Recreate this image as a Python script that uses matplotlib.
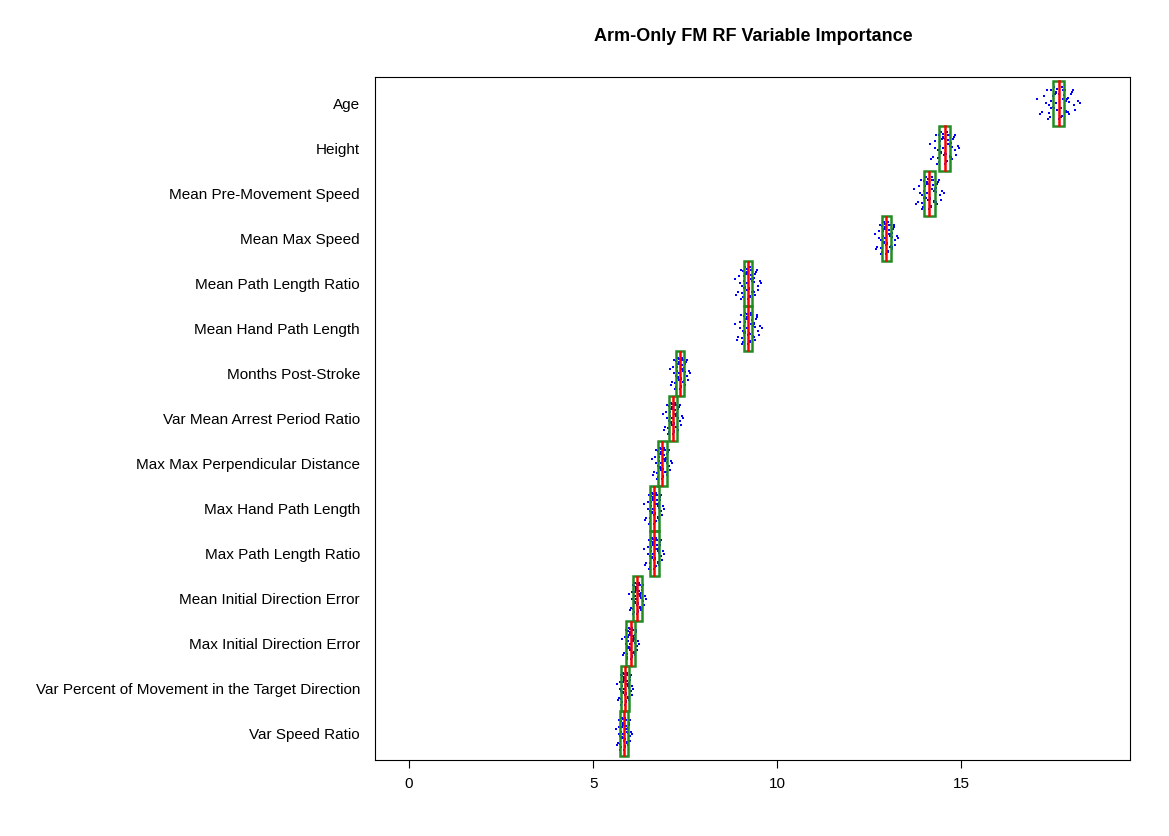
import matplotlib.pyplot as plt
import numpy as np

plt.rcParams['font.family'] = ['Liberation Sans', 'DejaVu Sans']

labels = ["Age", "Height", "Mean Pre-Movement Speed", "Mean Max Speed",
          "Mean Path Length Ratio", "Mean Hand Path Length", "Months Post-Stroke",
          "Var Mean Arrest Period Ratio", "Max Max Perpendicular Distance",
          "Max Hand Path Length", "Max Path Length Ratio", "Mean Initial Direction Error",
          "Max Initial Direction Error", "Var Percent of Movement in the Target Direction",
          "Var Speed Ratio"]
medians = [17.65, 14.55, 14.13, 12.97, 9.21, 9.22, 7.36, 7.17, 6.87, 6.66, 6.66, 6.2, 6.02, 5.87, 5.84]
q1 = [17.5, 14.4, 13.98, 12.85, 9.1, 9.1, 7.24, 7.05, 6.75, 6.55, 6.55, 6.08, 5.9, 5.76, 5.73]
q3 = [17.8, 14.7, 14.28, 13.09, 9.32, 9.32, 7.48, 7.29, 7.0, 6.78, 6.78, 6.32, 6.14, 5.98, 5.95]
spread = [0.65, 0.45, 0.45, 0.35, 0.4, 0.4, 0.3, 0.3, 0.3, 0.3, 0.3, 0.25, 0.25, 0.25, 0.25]

# hand-picked jitter offsets (x in spread units, y in row units)
jx = [-0.9, -0.7, -0.5, -0.3, -0.1, 0.1, 0.3, 0.5, 0.7, 0.9, -0.8, -0.6, -0.4, -0.2, 0.0,
      0.2, 0.4, 0.6, 0.8, -0.35, -0.15, 0.05, 0.25, 0.45, -0.55, 0.65, -0.25, 0.15, 0.35,
      -0.05, -0.45, 0.55, 0.1, -0.1, 0.3, -0.3, 0.0, 0.2, -0.2, 0.4,
      0.12, -0.12, 0.22, -0.22, 0.32, -0.32, 0.42, -0.42, 0.08, -0.08]
jy = [0.1, -0.2, 0.3, -0.1, 0.25, -0.3, 0.05, 0.2, -0.15, 0.0, -0.25, 0.15, -0.05, 0.35,
      -0.35, 0.1, -0.2, 0.3, 0.05, -0.3, 0.2, -0.1, 0.3, -0.25, 0.0, -0.05, 0.15, 0.35,
      0.1, -0.15, -0.35, 0.25, -0.3, 0.0, -0.2, 0.05, 0.2, 0.3, -0.1, 0.12,
      -0.28, 0.22, 0.18, -0.08, -0.18, 0.28, 0.02, -0.22, -0.12, 0.32]

fig, ax = plt.subplots(figsize=(11.69, 8.36), dpi=100)
fig.subplots_adjust(left=0.321, right=0.967, top=0.908, bottom=0.091)
n = len(labels)
for i, lab in enumerate(labels):
    y = n - i
    xs = medians[i] + np.array(jx) * spread[i]
    ys = y + np.array(jy)
    ax.scatter(xs, ys, s=3, color="blue", marker="s", linewidths=0)
    ax.add_patch(plt.Rectangle((q1[i], y - 0.5), q3[i] - q1[i], 1.0,
                               fill=False, edgecolor="#228B22", linewidth=1.8))
    ax.plot([medians[i], medians[i]], [y - 0.48, y + 0.48], color="red", linewidth=1.8)

ax.set_yticks(range(n, 0, -1))
ax.set_yticklabels(labels, fontsize=11)
ax.tick_params(axis="y", length=0, pad=11)
ax.set_xticks([0, 5, 10, 15])
ax.tick_params(axis="x", labelsize=11, length=6, pad=6)
ax.set_xlim(-0.92, 19.6)
ax.set_ylim(0.42, 15.58)
ax.set_title("Arm-Only FM RF Variable Importance", fontsize=13, fontweight="bold", pad=26)
fig.savefig("out.png")
